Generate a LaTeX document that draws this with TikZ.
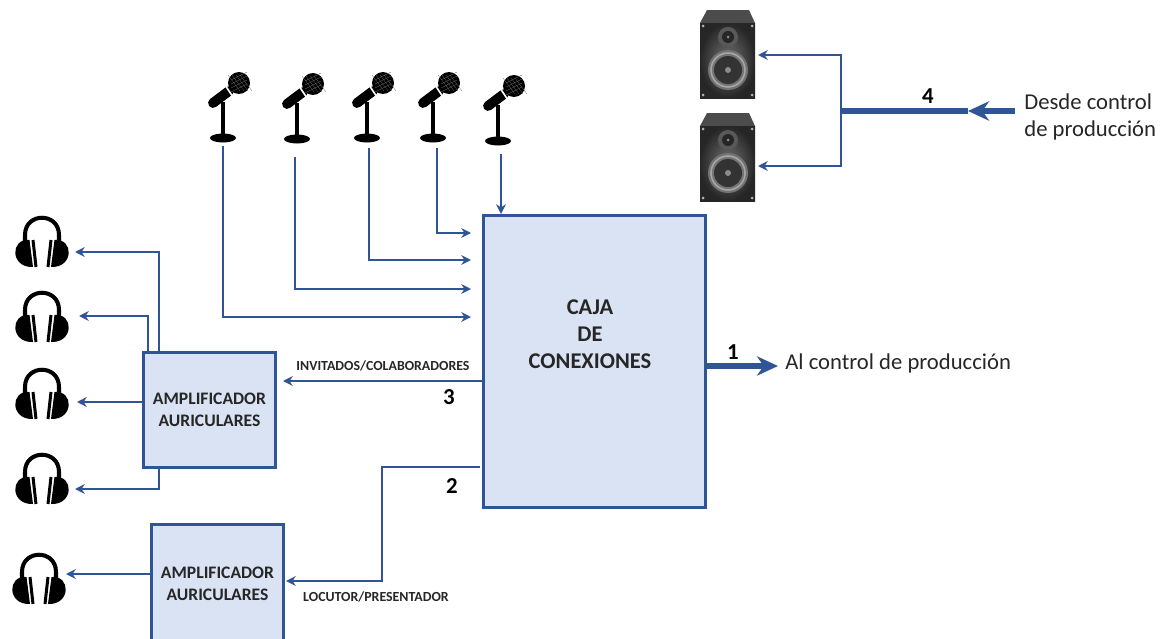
\documentclass[tikz,border=0pt]{standalone}
\usepackage{fontspec}
\setmainfont{Carlito}
\usetikzlibrary{arrows.meta}
\definecolor{azul}{HTML}{2F5597}
\definecolor{relleno}{HTML}{DAE3F3}

\tikzset{
  auricular/.pic={
    \draw[line width=2.3pt] (-17,1) -- (-17,-7) .. controls (-17,-30) and (17,-30) .. (17,-7) -- (17,1);
    \fill (-12.5,-2) .. controls (-32,-4) and (-32,26) .. (-9,25) -- cycle;
    \fill (12.5,-2) .. controls (32,-4) and (32,26) .. (9,25) -- cycle;
    \draw[line width=1.7pt] (-9,-2) -- (-6,25);
    \draw[line width=1.7pt] (9,-2) -- (6,25);
  },
  microfono/.pic={
    \fill (0,0) ellipse [x radius=13, y radius=4.5];
    \draw[line width=2pt] (0,0) -- (0,-36);
    \draw[line width=5.6pt, line cap=round] (-10,-35) -- (6,-47);
    \fill (16,-55) circle [radius=11];
    \draw[white, line width=0.9pt] (0,-56) -- (10,-41);
    \foreach \d in {-6,-2,2,6} {
      \draw[black!60, line width=0.15pt] (11+\d,-63) -- (23+\d,-47);
      \draw[black!60, line width=0.15pt] (8,-52+\d) -- (24,-60+\d);
    }
  },
  altavoz/.pic={
    \fill[black!70] (-28,-31) -- (-21,-44) -- (21,-44) -- (27,-31) -- cycle;
    \shade[inner color=black!55, outer color=black!85] (-28,-31) rectangle (27,44);
    \fill[black!55] (0,16) circle [radius=20];
    \draw[black!35, line width=0.9pt] (0,16) circle [radius=17];
    \fill[black!80] (0,16) circle [radius=14];
    \fill[black!65] (0,-17) circle [radius=10];
    \fill[black!85] (0,-17) circle [radius=6];
    \fill[black!45] (0,16) circle [radius=3];
    \fill[black!45] (0,-17) circle [radius=1.5];
    \foreach \p in {(-25,-28),(24,-28),(-25,41),(24,41)} {
      \fill[black!30] \p circle [radius=1.5];
    }
  }
}

\begin{document}
\begin{tikzpicture}[x=0.02cm, y=-0.02cm,
  bloque/.style={draw=azul, fill=relleno, line width=1.7pt, inner sep=0pt},
  linea/.style={draw=azul, line width=1.4pt, -{Stealth[length=5.5pt, width=5.5pt]}},
  grueso/.style={draw=azul, line width=3.3pt},
  texto/.style={font=\fontsize{12.9}{15.3}\selectfont, align=left, text=black!85, inner sep=0pt},
  titulo/.style={font=\fontsize{10}{12.4}\selectfont\bfseries, align=center, text=black!85, inner sep=0pt},
  nota/.style={font=\fontsize{7.9}{9}\selectfont\bfseries, text=black!85, inner sep=0pt},
  numero/.style={font=\fontsize{13}{15}\selectfont\bfseries, inner sep=0pt}]
  \useasboundingbox (0,0) rectangle (1167,639);

  \node[bloque, minimum width=4.46cm, minimum height=5.86cm] (caja) at (594.5,361.5) {};
  \node[titulo, font=\fontsize{12.8}{15.3}\selectfont\bfseries] (cajatxt) at (590,334) {CAJA\\DE\\CONEXIONES};
  \node[bloque, titulo, minimum width=2.66cm, minimum height=2.32cm] (amp1) at (209.5,410) {AMPLIFICADOR\\AURICULARES};
  \node[bloque, titulo, minimum width=2.66cm, minimum height=2.4cm] (amp2) at (217.5,584) {AMPLIFICADOR\\AURICULARES};

  \pic at (223,138) {microfono};
  \pic at (297,139) {microfono};
  \pic at (367,138) {microfono};
  \pic at (433,138) {microfono};
  \pic at (498,141) {microfono};
  \pic at (42,242) {auricular};
  \pic at (42,317) {auricular};
  \pic at (42,394) {auricular};
  \pic at (42,479) {auricular};
  \pic at (39,579) {auricular};
  \pic at (728,54) {altavoz};
  \pic at (728,157) {altavoz};

  \coordinate (mic1) at (223,146);
  \coordinate (mic2) at (295,157);
  \coordinate (mic3) at (369,148);
  \coordinate (mic4) at (437,148);
  \coordinate (mic5) at (501,154);
  \coordinate (ent1) at (471,317);
  \coordinate (ent2) at (471,289);
  \coordinate (ent3) at (471,260);
  \coordinate (ent4) at (471,233);
  \coordinate (ent5) at (501,214);
  \coordinate (hp1) at (75,252);
  \coordinate (hp2) at (79,316);
  \coordinate (hp3) at (77,402);
  \coordinate (hp4) at (75,489);
  \coordinate (hp5) at (66,574);
  \coordinate (sal1) at (159,352);
  \coordinate (sal2) at (148,352);
  \coordinate (sal3) at (143,402);
  \coordinate (sal4) at (159,468);
  \coordinate (sal5) at (151,574);
  \coordinate (out3) at (483,381);
  \coordinate (in3) at (283,381);
  \coordinate (out2) at (480,467);
  \coordinate (codo2) at (382,581);
  \coordinate (in2) at (286,581);
  \coordinate (fin1) at (778,366);
  \coordinate (ini1) at (706,366);
  \coordinate (ini4) at (1015,111);
  \coordinate (med4) at (968,111);
  \coordinate (nudo4) at (841,111);
  \coordinate (alt1) at (758,55);
  \coordinate (alt2) at (758,166);

  \draw[linea] (mic1) |- (ent1);
  \draw[linea] (mic2) |- (ent2);
  \draw[linea] (mic3) |- (ent3);
  \draw[linea] (mic4) |- (ent4);
  \draw[linea] (mic5) -- (ent5);
  \draw[linea] (sal1) |- (hp1);
  \draw[linea] (sal2) |- (hp2);
  \draw[linea] (sal3) -- (hp3);
  \draw[linea] (sal4) |- (hp4);
  \draw[linea] (sal5) -- (hp5);
  \draw[linea] (out3) -- (in3);
  \draw[linea] (out2) -| (codo2) -- (in2);
  \draw[linea] (nudo4) |- (alt1);
  \draw[linea] (nudo4) |- (alt2);
  \draw[grueso, -{Stealth[length=12pt, width=11pt]}] (ini1) -- (fin1);
  \draw[grueso, -{Stealth[length=12pt, width=11pt]}] (ini4) -- (med4);
  \draw[grueso] (med4) -- (nudo4);

  \node[numero] (n1) at (733,352) {1};
  \node[numero] (n2) at (452,486) {2};
  \node[numero] (n3) at (449,397) {3};
  \node[numero] (n4) at (928,96) {4};
  \node[nota] (inv) at (383,366) {INVITADOS/COLABORADORES};
  \node[nota] (loc) at (376,597) {LOCUTOR/PRESENTADOR};
  \node[texto, anchor=west] (alctrl) at (785,363) {Al control de producción};
  \node[texto, anchor=west] (desde) at (1024,117) {Desde control\\de producción};
\end{tikzpicture}
\end{document}
